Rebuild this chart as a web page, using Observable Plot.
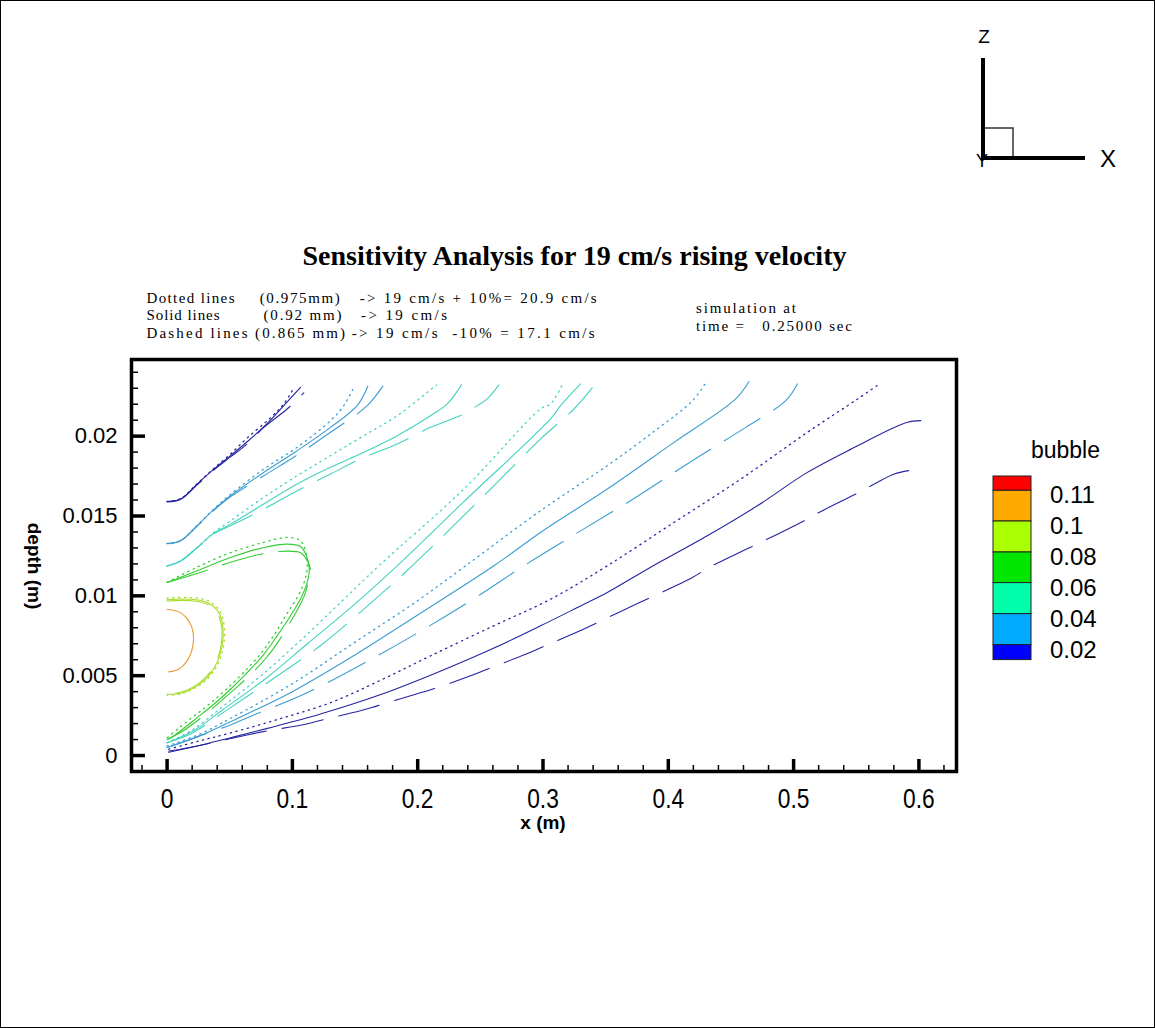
<!DOCTYPE html>
<html>
<head>
<meta charset="utf-8">
<script src="https://cdn.jsdelivr.net/npm/d3@7"></script>
<script src="https://cdn.jsdelivr.net/npm/@observablehq/plot@0.6"></script>
<style>
  html, body { margin: 0; padding: 0; background: #fff; }
  #page { position: relative; width: 1155px; height: 1028px; overflow: hidden; background: #fff; }
  #page > * { position: absolute; left: 0; top: 0; }
  #border { width: 1155px; height: 1028px; box-sizing: border-box; border: 1px solid #000; pointer-events: none; }
</style>
</head>
<body>
<div id="page">
  <div id="chart"></div>
  <svg id="overlay" width="1155" height="1028"></svg>
  <div id="border"></div>
</div>
<script>
// ---------------- data ----------------
const levels = ["0.02", "0.04", "0.06", "0.08", "0.1", "0.11"];
const levelColors = ["#2424a0", "#3c9dd0", "#45d2c0", "#33cc33", "#a8dc2a", "#e89a30"];

const xMajorTicks = [0, 0.1, 0.2, 0.3, 0.4, 0.5, 0.6];
const xMinorTicks = [-0.02, 0.02, 0.04, 0.06, 0.08, 0.12, 0.14, 0.16, 0.18, 0.22, 0.24, 0.26, 0.28,
  0.32, 0.34, 0.36, 0.38, 0.42, 0.44, 0.46, 0.48, 0.52, 0.54, 0.56, 0.58, 0.62];
const yMajorTicks = [0, 0.005, 0.01, 0.015, 0.02];
const yMinorTicks = [0.001, 0.002, 0.003, 0.004, 0.006, 0.007, 0.008, 0.009, 0.011, 0.012, 0.013, 0.014,
  0.016, 0.017, 0.018, 0.019, 0.021, 0.022, 0.023, 0.024];

// level 0.02 – upper branch
const c02UpperDotted = [[0,0.01591],[0.0106,0.01608],[0.024,0.01702],[0.0373,0.01798],[0.0506,0.01888],[0.0639,0.01988],[0.0825,0.02115],[0.093,0.022],[0.1011,0.02302]];
const c02UpperSolid  = [[0,0.01591],[0.0106,0.01606],[0.024,0.017],[0.0373,0.01794],[0.0506,0.01878],[0.0639,0.01965],[0.08,0.0208],[0.0931,0.02191],[0.1065,0.02306]];
const c02UpperDashed = [[0,0.01588],[0.0106,0.01603],[0.024,0.01695],[0.0373,0.01788],[0.0506,0.0187],[0.0639,0.01951],[0.0772,0.02055],[0.0958,0.0217],[0.1091,0.02271]];
// level 0.02 – lower branch
const c02LowerDotted = [[0.0013,0.0004],[0.025,0.0009],[0.05,0.0014],[0.09,0.0023],[0.1304,0.00331],[0.17,0.0047],[0.2102,0.00624],[0.26,0.0081],[0.306,0.00979],[0.3513,0.01188],[0.4046,0.0146],[0.458,0.01732],[0.511,0.02024],[0.5511,0.02233],[0.5684,0.02327]];
const c02LowerSolid  = [[0.0013,0.00028],[0.024,0.0006],[0.05,0.0011],[0.08,0.0017],[0.1224,0.0026],[0.17,0.0038],[0.2156,0.0052],[0.26,0.0067],[0.298,0.00812],[0.33,0.00937],[0.3513,0.01021],[0.3832,0.01167],[0.4311,0.01376],[0.4711,0.01564],[0.511,0.01773],[0.5511,0.0194],[0.5777,0.02045],[0.591,0.02087],[0.6015,0.02097]];
const c02LowerDashed = [[0.0013,0.0002],[0.0359,0.0008],[0.0665,0.00133],[0.0798,0.00154],[0.1104,0.00196],[0.1238,0.00223],[0.1543,0.0028],[0.1677,0.00311],[0.1983,0.00384],[0.2116,0.00415],[0.2422,0.00499],[0.2555,0.0054],[0.2861,0.00634],[0.3002,0.00682],[0.3314,0.00787],[0.3447,0.00837],[0.3753,0.00952],[0.3886,0.01],[0.4192,0.01115],[0.4325,0.01178],[0.4625,0.01293],[0.4764,0.01345],[0.507,0.01464],[0.5203,0.01522],[0.5511,0.01644],[0.5644,0.017],[0.5804,0.01763],[0.5948,0.01788]];

// level 0.04 – upper branch
const c04UpperDotted = [[0,0.01328],[0.0106,0.01345],[0.024,0.01441],[0.0373,0.01544],[0.0506,0.01635],[0.0772,0.01794],[0.1038,0.0193],[0.1304,0.02097],[0.141,0.02191],[0.149,0.02306]];
const c04UpperSolid  = [[0,0.01328],[0.0106,0.01345],[0.024,0.01439],[0.0373,0.0154],[0.0506,0.01627],[0.0772,0.01773],[0.1038,0.01909],[0.1304,0.02055],[0.1517,0.02191],[0.1602,0.02313]];
const c04UpperDashed = [[0,0.01326],[0.0106,0.01343],[0.024,0.01436],[0.0373,0.01535],[0.0506,0.0162],[0.0772,0.01752],[0.1038,0.01882],[0.1304,0.02024],[0.1597,0.02191],[0.1722,0.02313]];
// level 0.04 – lower branch
const c04LowerDotted = [[0,0.0006],[0.025,0.0013],[0.05,0.0023],[0.1,0.0045],[0.15,0.0071],[0.2,0.0097],[0.2382,0.01188],[0.298,0.01533],[0.3513,0.01815],[0.3912,0.02045],[0.4193,0.02222],[0.4298,0.02333]];
const c04LowerSolid  = [[0,0.0005],[0.025,0.0012],[0.05,0.0021],[0.1,0.004],[0.15,0.0063],[0.2,0.0088],[0.2608,0.01188],[0.298,0.01397],[0.3513,0.01669],[0.4046,0.01961],[0.4538,0.02233],[0.4644,0.02342]];
const c04LowerDashed = [[0,0.0005],[0.025,0.0012],[0.05,0.0019],[0.0705,0.00258],[0.1091,0.00383],[0.153,0.00561],[0.1969,0.00754],[0.2422,0.00969],[0.2848,0.01188],[0.33,0.01407],[0.3739,0.01616],[0.4179,0.0184],[0.4618,0.02055],[0.4937,0.02222],[0.503,0.02327]];

// level 0.06 – upper branch
const c06UpperDotted = [[0,0.01188],[0.0106,0.01219],[0.024,0.01303],[0.0373,0.01397],[0.0506,0.0147],[0.0772,0.01617],[0.1038,0.01752],[0.1304,0.01878],[0.157,0.02003],[0.1836,0.02128],[0.215,0.02321]];
const c06UpperSolid  = [[0,0.01188],[0.0106,0.01219],[0.024,0.01303],[0.0373,0.01392],[0.0506,0.01449],[0.0772,0.01575],[0.1038,0.017],[0.1304,0.01805],[0.157,0.01899],[0.1836,0.02003],[0.2102,0.02128],[0.2236,0.02202],[0.235,0.02321]];
const c06UpperDashed = [[0,0.01186],[0.0106,0.01216],[0.024,0.013],[0.0373,0.01388],[0.0506,0.01439],[0.0772,0.01543],[0.1038,0.01658],[0.1304,0.01763],[0.157,0.01867],[0.1836,0.01951],[0.2102,0.02055],[0.2369,0.02139],[0.2475,0.02191],[0.2555,0.02233],[0.2648,0.02321]];
// level 0.06 – lower branch
const c06LowerDotted = [[0,0.0008],[0.02,0.0016],[0.045,0.0031],[0.075,0.005],[0.105,0.0071],[0.14,0.0097],[0.169,0.01188],[0.2369,0.01669],[0.298,0.0217],[0.306,0.02202],[0.3154,0.02321]];
const c06LowerSolid  = [[0,0.0008],[0.02,0.0015],[0.045,0.0029],[0.08,0.0049],[0.112,0.007],[0.15,0.0095],[0.1836,0.01188],[0.2369,0.0159],[0.306,0.02108],[0.314,0.02191],[0.33,0.02327]];
const c06LowerDashed = [[0,0.0008],[0.02,0.0014],[0.045,0.0027],[0.0878,0.00498],[0.1238,0.00697],[0.169,0.01],[0.1956,0.01188],[0.2555,0.01648],[0.298,0.01982],[0.3247,0.0217],[0.3393,0.02302]];

// level 0.08 – closed loop
const c08Dotted = [[0,0.01084],[0.024,0.0118],[0.0506,0.0127],[0.0772,0.01335],[0.0958,0.01366],[0.1065,0.01345],[0.1105,0.0128],[0.1118,0.0118],[0.11,0.011],[0.1045,0.01],[0.095,0.0088],[0.085,0.0075],[0.074,0.0063],[0.061,0.0052],[0.048,0.0042],[0.035,0.0033],[0.022,0.0025],[0.009,0.0017],[0,0.0011]];
const c08Solid  = [[0,0.01084],[0.024,0.01157],[0.0506,0.0124],[0.0772,0.01303],[0.0958,0.01324],[0.1065,0.01309],[0.1112,0.01251],[0.1135,0.01167],[0.1125,0.01104],[0.1078,0.01],[0.0985,0.00875],[0.0878,0.00749],[0.0772,0.00634],[0.0639,0.00519],[0.0506,0.00415],[0.0373,0.00321],[0.024,0.00237],[0.0106,0.00154],[0.0013,0.00101]];
const c08Dashed = [[0,0.01084],[0.024,0.0114],[0.0506,0.0121],[0.0772,0.01265],[0.0958,0.0128],[0.1065,0.0127],[0.112,0.0122],[0.1145,0.0116],[0.113,0.011],[0.1095,0.01],[0.101,0.0087],[0.091,0.0074],[0.08,0.0062],[0.067,0.0051],[0.053,0.0041],[0.04,0.0032],[0.026,0.0023],[0.012,0.0015],[0,0.001]];

// level 0.1 – closed loop
const c10Dotted = [[0,0.00985],[0.0186,0.0099],[0.033,0.00968],[0.0425,0.009],[0.0458,0.00791],[0.045,0.00686],[0.0408,0.00578],[0.0326,0.00482],[0.0216,0.0042],[0.0106,0.00385],[0,0.00378]];
const c10Solid  = [[0,0.00975],[0.0186,0.00979],[0.032,0.00958],[0.0413,0.00895],[0.0447,0.00791],[0.0439,0.00686],[0.0399,0.00582],[0.032,0.00488],[0.0213,0.00425],[0.0106,0.0039],[0,0.00383]];
const c10Dashed = [[0,0.00968],[0.0186,0.0097],[0.0312,0.0095],[0.0403,0.0089],[0.0437,0.00791],[0.043,0.00686],[0.0392,0.00586],[0.0314,0.00494],[0.021,0.0043],[0.0106,0.00396],[0,0.0039]];

// level 0.11 – closed loop
const c11Solid = [[0,0.00916],[0.0106,0.00895],[0.0173,0.00843],[0.0208,0.0077],[0.02,0.00666],[0.016,0.00593],[0.0093,0.0054],[0.0013,0.00524]];

// legend
const legendTitle = "bubble";
const legendBandColors = ["#ff0000", "#ffaa00", "#aaff00", "#00e600", "#00ffaa", "#00aaff", "#0000ff"];
const legendLabels = ["0.11", "0.1", "0.08", "0.06", "0.04", "0.02"];

// texts
const titleText = "Sensitivity Analysis for 19 cm/s rising velocity";
const noteRows = [
  ["Dotted lines", "(0.975mm)", "-> 19 cm/s + 10%= 20.9 cm/s"],
  ["Solid lines", "(0.92 mm)", "-> 19 cm/s"],
  ["Dashed lines", "(0.865 mm)", "-> 19 cm/s  -10% = 17.1 cm/s"]
];
const simRows = ["simulation at", "time =   0.25000 sec"];
const xLabel = "x (m)";
const yLabel = "depth (m)";

// ---------------- build table ----------------
const contourLines = [
  {level: "0.02", style: "dotted", pts: c02UpperDotted},
  {level: "0.02", style: "solid",  pts: c02UpperSolid},
  {level: "0.02", style: "dashed", pts: c02UpperDashed},
  {level: "0.02", style: "dotted", pts: c02LowerDotted},
  {level: "0.02", style: "solid",  pts: c02LowerSolid},
  {level: "0.02", style: "dashed", pts: c02LowerDashed},
  {level: "0.04", style: "dotted", pts: c04UpperDotted},
  {level: "0.04", style: "solid",  pts: c04UpperSolid},
  {level: "0.04", style: "dashed", pts: c04UpperDashed},
  {level: "0.04", style: "dotted", pts: c04LowerDotted},
  {level: "0.04", style: "solid",  pts: c04LowerSolid},
  {level: "0.04", style: "dashed", pts: c04LowerDashed},
  {level: "0.06", style: "dotted", pts: c06UpperDotted},
  {level: "0.06", style: "solid",  pts: c06UpperSolid},
  {level: "0.06", style: "dashed", pts: c06UpperDashed},
  {level: "0.06", style: "dotted", pts: c06LowerDotted},
  {level: "0.06", style: "solid",  pts: c06LowerSolid},
  {level: "0.06", style: "dashed", pts: c06LowerDashed},
  {level: "0.08", style: "dotted", pts: c08Dotted},
  {level: "0.08", style: "solid",  pts: c08Solid},
  {level: "0.08", style: "dashed", pts: c08Dashed},
  {level: "0.1",  style: "dotted", pts: c10Dotted},
  {level: "0.1",  style: "solid",  pts: c10Solid},
  {level: "0.1",  style: "dashed", pts: c10Dashed},
  {level: "0.11", style: "solid",  pts: c11Solid}
];
const rows = contourLines.flatMap((l, i) => l.pts.map(([x, y]) => ({x, y, id: i, level: l.level, style: l.style})));

const styleOpts = {
  dotted: {strokeWidth: 1.3, strokeDasharray: "1.3,4.5", strokeLinecap: "round"},
  solid:  {strokeWidth: 1.1},
  dashed: {strokeWidth: 1.1, strokeDasharray: "42,16"}
};

const W = 1155, H = 1028, mL = 131, mR = 199, mT = 359, mB = 257;
const frameW = W - mL - mR, frameH = H - mT - mB;

const lineMarks = ["solid", "dashed", "dotted"].map(s =>
  Plot.line(rows.filter(d => d.style === s), {
    x: "x", y: "y", z: "id", stroke: "level", curve: "catmull-rom", ...styleOpts[s]
  })
);

const chart = Plot.plot({
  width: W, height: H,
  marginLeft: mL, marginRight: mR, marginTop: mT, marginBottom: mB,
  x: {domain: [-0.0284, 0.630]},
  y: {domain: [-0.001, 0.0248]},
  color: {type: "ordinal", domain: levels, range: levelColors},
  style: {background: "transparent", fontFamily: "'Liberation Sans', Arial, sans-serif", color: "#000", overflow: "visible"},
  marks: [
    ...lineMarks,
    Plot.ruleX(xMinorTicks, {x: d => d, insetTop: frameH - 6, strokeWidth: 1.5, stroke: "#000"}),
    Plot.ruleX(xMajorTicks, {x: d => d, insetTop: frameH - 12, strokeWidth: 3.5, stroke: "#000"}),
    Plot.ruleY(yMinorTicks, {y: d => d, insetRight: frameW - 7, strokeWidth: 1.5, stroke: "#000"}),
    Plot.ruleY(yMajorTicks, {y: d => d, insetRight: frameW - 14, strokeWidth: 3.5, stroke: "#000"}),
    Plot.frame({stroke: "#000", strokeWidth: 3.5}),
    Plot.axisX(xMajorTicks, {tickSize: 0, tickPadding: 17, fontSize: 24, label: null,
      tickFormat: d => String(d)}),
    Plot.axisY(yMajorTicks, {tickSize: 0, tickPadding: 14, fontSize: 22, label: null,
      tickFormat: d => String(d)})
  ]
});
document.getElementById("chart").appendChild(chart);
// slightly taller, narrower x tick labels, as in the reference's font
chart.querySelectorAll('g[aria-label="x-axis tick label"] text').forEach(t => {
  const tr = t.getAttribute("transform") || "";
  t.setAttribute("transform", tr + " scale(0.95,1.14)");
});

// ---------------- overlay texts, legend, triad ----------------
const ov = d3.select("#overlay");
const sans = "'Liberation Sans', Arial, sans-serif";
const serif = "'Liberation Serif', 'Times New Roman', serif";

ov.append("text").attr("x", 574.5).attr("y", 265).attr("text-anchor", "middle")
  .attr("font-family", serif).attr("font-weight", "bold").attr("font-size", 28).text(titleText);

// note segments: x position and rendered width per segment
const noteX = [[146.5, 259.7, 359.7], [146.5, 263.5, 361], [146.5, 255, 351.7]];
const noteW = [[88, 80, 237], [73, 78, 86], [101, 90, 243]];
const noteY = [302.5, 320, 337.5];
noteRows.forEach((r, i) => {
  r.forEach((t, j) => {
    ov.append("text").attr("x", noteX[i][j]).attr("y", noteY[i]).attr("font-family", serif)
      .attr("font-size", 15).style("white-space", "pre")
      .attr("textLength", noteW[i][j]).attr("lengthAdjust", "spacing").text(t);
  });
});
simRows.forEach((t, i) => {
  ov.append("text").attr("x", 696).attr("y", [313, 331][i]).attr("font-family", serif)
    .attr("font-size", 15).style("white-space", "pre")
    .attr("textLength", [100, 156][i]).attr("lengthAdjust", "spacing").text(t);
});

ov.append("text").attr("x", 543).attr("y", 829).attr("text-anchor", "middle")
  .attr("font-family", sans).attr("font-weight", "bold").attr("font-size", 19).text(xLabel);
ov.append("text").attr("transform", "translate(28,566) rotate(90)").attr("text-anchor", "middle")
  .attr("font-family", sans).attr("font-weight", "bold").attr("font-size", 19).text(yLabel);

// legend
ov.append("text").attr("x", 1100).attr("y", 458).attr("text-anchor", "end")
  .attr("font-family", sans).attr("font-size", 23).text(legendTitle);
const bandH = [14.3, 30.7, 31, 30.6, 31, 31, 15];
let yy = 476;
legendBandColors.forEach((c, i) => {
  ov.append("rect").attr("x", 993).attr("y", yy).attr("width", 38).attr("height", bandH[i])
    .attr("fill", c).attr("stroke", "#222").attr("stroke-width", 1);
  yy += bandH[i];
});
let by = 476;
legendLabels.forEach((t, i) => {
  by += bandH[i];
  ov.append("text").attr("x", 1050).attr("y", by + 13).attr("font-family", sans)
    .attr("font-size", 24).text(t);
});

// axis triad
const tri = ov.append("g").attr("transform", "translate(960,20)");
tri.append("text").attr("x", 16).attr("y", 147).attr("font-family", sans).attr("font-size", 18).text("Y");
tri.append("rect").attr("x", 24).attr("y", 108).attr("width", 29).attr("height", 30)
  .attr("fill", "none").attr("stroke", "#333").attr("stroke-width", 1.5);
tri.append("line").attr("x1", 23).attr("x2", 23).attr("y1", 38).attr("y2", 140).attr("stroke", "#000").attr("stroke-width", 4);
tri.append("line").attr("x1", 21).attr("x2", 125).attr("y1", 138).attr("y2", 138).attr("stroke", "#000").attr("stroke-width", 4);
tri.append("text").attr("x", 24).attr("y", 23).attr("text-anchor", "middle").attr("font-family", sans).attr("font-size", 19).text("Z");
tri.append("text").attr("x", 140).attr("y", 147).attr("font-family", sans).attr("font-size", 24).text("X");
</script>
</body>
</html>
